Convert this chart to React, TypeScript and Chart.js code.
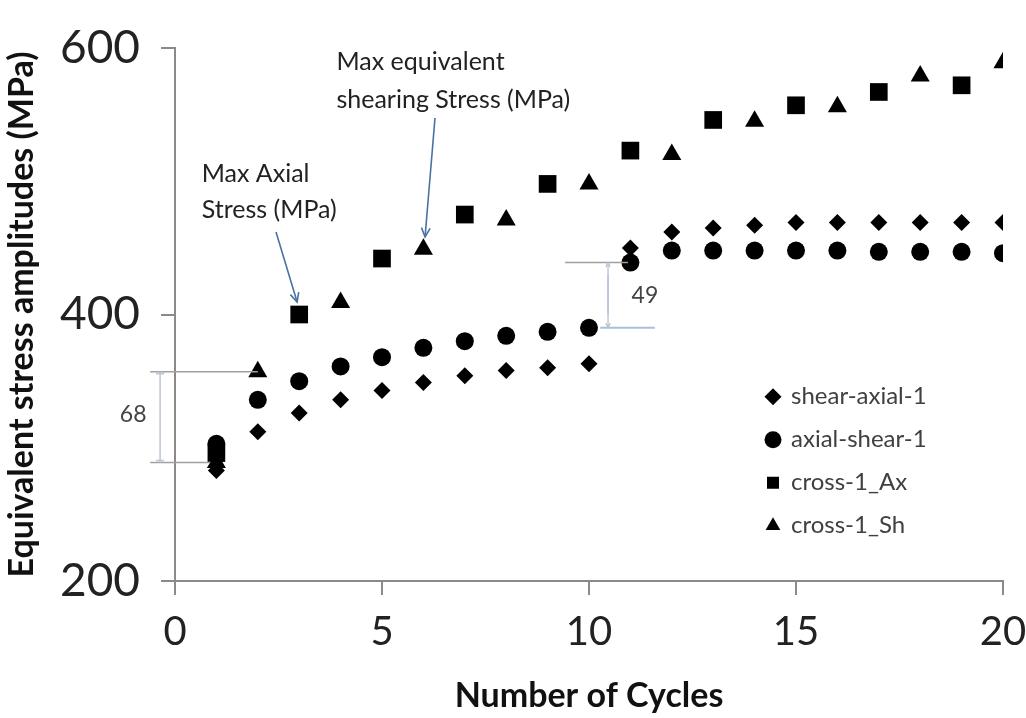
import React, { useEffect, useRef } from 'react';
import { Chart, registerables } from 'chart.js';

Chart.register(...registerables);

const FONT = 'Lato, "Open Sans", "DejaVu Sans", sans-serif';

// ---- data ----
const cycles = [1, 2, 3, 4, 5, 6, 7, 8, 9, 10, 11, 12, 13, 14, 15, 16, 17, 18, 19, 20];
const shearAxial1 = [283, 312, 326, 336, 343, 349, 354, 358, 360, 363, 450, 462, 465, 467, 469, 469, 469, 469, 469, 469];
const axialShear1 = [303, 336, 350, 361, 368, 375, 380, 384, 387, 390, 439, 448, 448, 448, 448, 448, 447, 447, 447, 446];
const crossAxCycles = [1, 3, 5, 7, 9, 11, 13, 15, 17, 19];
const crossAx = [296, 400, 442, 475, 498, 523, 546, 557, 567, 572];
const crossShCycles = [1, 2, 4, 6, 8, 10, 12, 14, 16, 18, 20];
const crossSh = [289, 357, 409, 449, 471, 498, 520, 545, 556, 579, 589];

const seriesNames = ['shear-axial-1', 'axial-shear-1', 'cross-1_Ax', 'cross-1_Sh'];
const xTicks = [0, 5, 10, 15, 20];
const yTicks = [200, 400, 600];

const xTitle = 'Number of Cycles';
const yTitle = 'Equivalent stress amplitudes (MPa)';

// annotation texts (positions in data units)
const noteAxial = ['Max Axial', 'Stress (MPa)'];
const noteShear = ['Max equivalent', 'shearing Stress (MPa)'];
const gap68 = '68';
const gap49 = '49';

const toXY = (xs: number[], ys: number[]) => xs.map((x, i) => ({ x, y: ys[i] }));

function drawArrow(ctx: CanvasRenderingContext2D, x1: number, y1: number, x2: number, y2: number, size: number) {
  ctx.beginPath();
  ctx.moveTo(x1, y1);
  ctx.lineTo(x2, y2);
  ctx.stroke();
  const a = Math.atan2(y2 - y1, x2 - x1);
  ctx.beginPath();
  ctx.moveTo(x2 - size * Math.cos(a - 0.45), y2 - size * Math.sin(a - 0.45));
  ctx.lineTo(x2, y2);
  ctx.lineTo(x2 - size * Math.cos(a + 0.45), y2 - size * Math.sin(a + 0.45));
  ctx.stroke();
}

const annotationPlugin = {
  id: 'annotations',
  beforeDraw(chart: any) {
    const lg = chart.legend;
    if (lg) {
      lg.left = 748;
      lg.top = 365.7;
      lg.right = 1026;
      lg.bottom = 718;
    }
  },
  afterDraw(chart: any) {
    const ctx: CanvasRenderingContext2D = chart.ctx;
    const xs = chart.scales.x;
    const ys = chart.scales.y;
    const X = (v: number) => xs.getPixelForValue(v);
    const Y = (v: number) => ys.getPixelForValue(v);
    ctx.save();

    // text notes
    ctx.font = `25px ${FONT}`;
    ctx.fillStyle = '#222';
    ctx.textAlign = 'left';
    ctx.textBaseline = 'alphabetic';
    ctx.fillText(noteAxial[0], X(0.645), Y(499.4));
    ctx.fillText(noteAxial[1], X(0.645), Y(472.4));
    ctx.fillText(noteShear[0], X(3.9), Y(583.5));
    ctx.fillText(noteShear[1], X(3.9), Y(555));

    // arrows
    ctx.strokeStyle = '#4a72a0';
    ctx.lineWidth = 1.6;
    drawArrow(ctx, X(2.44), Y(461.9), X(2.95), Y(409.4), 10);
    drawArrow(ctx, X(6.28), Y(547.5), X(6.04), Y(458.2), 10);

    // dimension 68
    ctx.strokeStyle = '#a0a0a0';
    ctx.lineWidth = 1.5;
    ctx.beginPath();
    ctx.moveTo(X(-0.6), Y(357));
    ctx.lineTo(X(2.0), Y(357));
    ctx.moveTo(X(-0.6), Y(289));
    ctx.lineTo(X(0.85), Y(289));
    ctx.stroke();
    ctx.strokeStyle = '#b9c6d4';
    ctx.beginPath();
    const vx = X(-0.36);
    ctx.moveTo(vx, Y(357));
    ctx.lineTo(vx, Y(289));
    ctx.moveTo(vx - 4, Y(357) + 2);
    ctx.lineTo(vx + 4, Y(357) + 2);
    ctx.moveTo(vx - 4, Y(289) - 2);
    ctx.lineTo(vx + 4, Y(289) - 2);
    ctx.stroke();

    // dimension 49
    ctx.strokeStyle = '#a0a0a0';
    ctx.beginPath();
    ctx.moveTo(X(9.42), Y(439));
    ctx.lineTo(X(10.94), Y(439));
    ctx.stroke();
    ctx.strokeStyle = '#a9c0da';
    ctx.lineWidth = 2;
    ctx.beginPath();
    ctx.moveTo(X(10.27), Y(390));
    ctx.lineTo(X(11.59), Y(390));
    ctx.stroke();
    ctx.lineWidth = 1.3;
    ctx.strokeStyle = '#b3c2d2';
    const wx = X(10.46);
    drawArrow(ctx, wx, Y(400), wx, Y(439), 5);
    drawArrow(ctx, wx, Y(430), wx, Y(390), 5);

    ctx.font = `23px ${FONT}`;
    ctx.fillStyle = '#444';
    ctx.textAlign = 'center';
    ctx.textBaseline = 'middle';
    ctx.fillText(gap68, X(-1.01), Y(324.6));
    ctx.fillText(gap49, X(11.35), Y(413.9));
    ctx.restore();
  },
};

export default function App() {
  const canvasRef = useRef<HTMLCanvasElement>(null);

  useEffect(() => {
    if (!canvasRef.current) return;
    const pointCommon = {
      backgroundColor: '#000',
      borderColor: '#000',
      pointBorderWidth: 0,
      borderWidth: 0,
      showLine: false,
    };
    const chart = new Chart(canvasRef.current, {
      type: 'scatter',
      data: {
        datasets: [
          { label: seriesNames[0], data: toXY(cycles, shearAxial1), pointStyle: 'rectRot', pointRadius: 8.5, ...pointCommon },
          { label: seriesNames[1], data: toXY(cycles, axialShear1), pointStyle: 'circle', pointRadius: 9, ...pointCommon },
          { label: seriesNames[2], data: toXY(crossAxCycles, crossAx), pointStyle: 'rect', pointRadius: 12.5, ...pointCommon },
          { label: seriesNames[3], data: toXY(crossShCycles, crossSh), pointStyle: 'triangle', pointRadius: 11, ...pointCommon },
        ],
      },
      options: {
        animation: false,
        responsive: true,
        maintainAspectRatio: false,
        layout: { padding: { left: 0, right: 23, top: 48, bottom: 0 } },
        plugins: {
          tooltip: { enabled: false },
          legend: {
            position: 'chartArea' as any,
            align: 'start',
            labels: {
              usePointStyle: true,
              boxWidth: 12,
              boxHeight: 12,
              padding: 19,
              color: '#404040',
              font: { family: FONT, size: 24 },
            },
          },
        },
        scales: {
          x: {
            type: 'linear',
            position: 'bottom',
            min: 0,
            max: 20,
            afterBuildTicks: (s: any) => {
              s.ticks = xTicks.map((v) => ({ value: v }));
            },
            afterFit: (s: any) => {
              s.height = 137;
              s.paddingLeft = 0;
              s.paddingRight = 0;
            },
            ticks: {
              font: { family: FONT, size: 40 },
              color: '#222',
              padding: 13,
              maxRotation: 0,
              autoSkip: false,
            },
            grid: {
              display: true,
              drawOnChartArea: false,
              drawTicks: true,
              tickLength: 14,
              color: '#8a8a8a',
              lineWidth: 2,
            },
            border: { display: true, color: '#8a8a8a', width: 2 },
            title: {
              display: true,
              text: xTitle,
              font: { family: FONT, size: 34, weight: 'bold' },
              color: '#111',
              padding: { top: 0, bottom: 2 },
            },
          },
          y: {
            type: 'linear',
            position: 'left',
            min: 200,
            max: 600,
            afterBuildTicks: (s: any) => {
              s.ticks = yTicks.map((v) => ({ value: v }));
            },
            afterFit: (s: any) => {
              s.width = 175;
              s.paddingTop = 0;
              s.paddingBottom = 0;
            },
            ticks: {
              font: { family: FONT, size: 46 },
              color: '#222',
              padding: 21,
            },
            grid: {
              display: true,
              drawOnChartArea: false,
              drawTicks: true,
              tickLength: 14,
              color: '#8a8a8a',
              lineWidth: 2,
            },
            border: { display: true, color: '#8a8a8a', width: 2 },
            title: {
              display: true,
              text: yTitle,
              font: { family: FONT, size: 34, weight: 'bold' },
              color: '#111',
              padding: { top: 2, bottom: 0 },
            },
          },
        },
      } as any,
      plugins: [annotationPlugin],
    });
    return () => chart.destroy();
  }, []);

  return (
    <div style={{ position: 'fixed', left: 0, top: 0, width: 1026, height: 718, background: '#fff' }}>
      <canvas ref={canvasRef} />
    </div>
  );
}
